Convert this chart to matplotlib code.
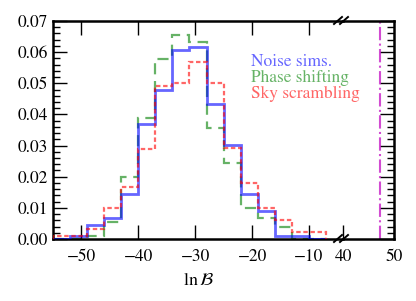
import numpy as np
import matplotlib
matplotlib.use("Agg")
import matplotlib.pyplot as plt
from matplotlib.ticker import MultipleLocator

plt.rcParams['font.family'] = ['STIXGeneral', 'DejaVu Serif']
plt.rcParams['mathtext.fontset'] = 'stix'

# bin edges shared by the three histograms (ln B)
edges = [-55, -52, -49, -46, -43, -40, -37, -34, -31, -28, -25, -22, -19, -16, -13, -10, -7]

noise_sims = [0.0, 0.001, 0.0046, 0.0067, 0.0145, 0.0369, 0.048, 0.0606, 0.0615,
              0.0435, 0.0302, 0.0145, 0.009, 0.001, 0.001, 0.0]
phase_shift = [0.0, 0.0, 0.001, 0.0056, 0.020, 0.0388, 0.0577, 0.0654, 0.0633,
               0.0355, 0.0244, 0.0099, 0.0066, 0.004, 0.0, 0.0]
sky_scramble = [0.001, 0.001, 0.0033, 0.0099, 0.0166, 0.029, 0.049, 0.050, 0.0569,
                0.050, 0.0292, 0.0179, 0.0099, 0.006, 0.0023, 0.0023]

observed_lnB = 47.3

labels = ["Noise sims.", "Phase shifting", "Sky scrambling"]
colors = ["#0000ff", "#008000", "#ff0000"]
text_colors = ["#6666ff", "#66b366", "#ff6666"]

fig = plt.figure(figsize=(4.16, 3.01), dpi=100)
W, H = 416, 301
x0, xb, x1 = 53, 343, 394
ytop, ybot = 21, 239
ax = fig.add_axes([x0 / W, 1 - ybot / H, (xb - x0) / W, (ybot - ytop) / H])
ax2 = fig.add_axes([xb / W, 1 - ybot / H, (x1 - xb) / W, (ybot - ytop) / H], sharey=ax)
ax2.patch.set_alpha(0)

ax.stairs(noise_sims, edges, color=colors[0], alpha=0.6, lw=2, ls='-', zorder=3)
ax.stairs(phase_shift, edges, color=colors[1], alpha=0.6, lw=1.6, ls=(0, (5, 3)), zorder=2)
ax.stairs(sky_scramble, edges, color=colors[2], alpha=0.6, lw=1.6, ls=(0, (2, 1.2)), zorder=4)

ax2.axvline(observed_lnB, color='m', alpha=0.7, lw=1.5, ls='-.')

ax.set_xlim(-55, -4)
ax2.set_xlim(40, 50)
ax.set_ylim(0, 0.07)

for a in (ax, ax2):
    for s in a.spines.values():
        s.set_linewidth(1.8)
    a.tick_params(which='both', direction='in', labelsize=12.5)
    a.tick_params(which='major', length=10, width=1)
    a.tick_params(which='minor', length=5, width=1)
    a.tick_params(axis='x', pad=7)

ax.spines['right'].set_visible(False)
ax2.spines['left'].set_visible(False)

ax.xaxis.set_major_locator(MultipleLocator(10))
ax.yaxis.set_major_locator(MultipleLocator(0.01))
ax.yaxis.set_minor_locator(MultipleLocator(0.002))
ax.tick_params(axis='x', which='both', top=True)
ax.tick_params(axis='y', which='both', left=True, right=False)
ax.yaxis.set_major_formatter(plt.FormatStrFormatter('%.2f'))

ax2.xaxis.set_major_locator(MultipleLocator(10))
ax2.tick_params(axis='y', which='both', left=False, right=True, labelleft=False)
ax2.tick_params(axis='x', which='both', top=False)

ax.set_xlabel(r'$\ln\mathcal{B}$', fontsize=13, labelpad=6)

# break marks
for dx in (-5, 1):
    for yy in (0, 1):
        fig.add_artist(plt.Line2D([(xb + dx - 4) / W, (xb + dx + 4) / W],
                                  [yy * (1 - ytop / H) + (1 - yy) * (1 - ybot / H) - 3 / H,
                                   yy * (1 - ytop / H) + (1 - yy) * (1 - ybot / H) + 4 / H],
                                  color='k', lw=1.4, zorder=10))

for i, (lab, c) in enumerate(zip(labels, text_colors)):
    fig.text(251 / W, 1 - (62 + i * 16) / H, lab, color=c, fontsize=12.5,
             va='center', ha='left', zorder=10)

fig.savefig("out.png", dpi=100)
